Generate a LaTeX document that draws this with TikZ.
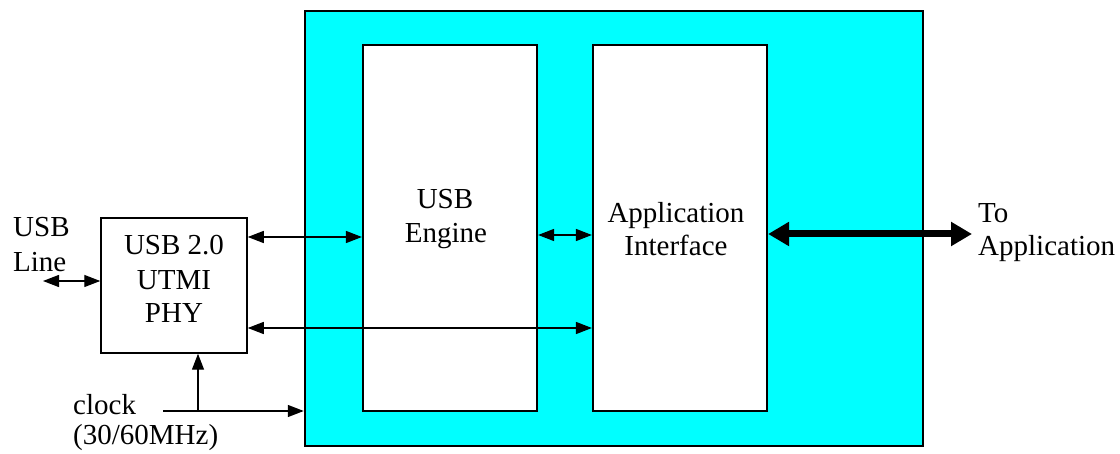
\documentclass[tikz,border=0pt]{standalone}
\usepackage{fontspec}
\setmainfont{Liberation Serif}
\usetikzlibrary{arrows.meta}
\definecolor{aqua}{RGB}{0,255,255}
\begin{document}
\begin{tikzpicture}[x=1pt,y=-1pt,
  lbl/.style={inner sep=0pt,font=\fontsize{29}{34}\selectfont},
  box/.style={draw,fill=white,line width=2.2pt,inner sep=0pt},
  thinarrow/.style={line width=1.4pt,{Triangle[length=16pt,width=12pt]}-{Triangle[length=16pt,width=12pt]}},
  onearrow/.style={line width=1.4pt,-{Triangle[length=16pt,width=12pt]}},
  thickarrow/.style={line width=7pt,{Triangle[length=21pt,width=23pt]}-{Triangle[length=21pt,width=23pt]}}]
\useasboundingbox (0,0) rectangle (1120,454);
% boxes
\node[draw,fill=aqua,line width=2.5pt,inner sep=0pt,minimum width=618pt,minimum height=435pt] (core) at (614,228.5) {};
\node[box,minimum width=174pt,minimum height=366pt] (engine) at (450,228) {};
\node[box,minimum width=174pt,minimum height=366pt] (app) at (680,228) {};
\node[box,line width=1.5pt,minimum width=146pt,minimum height=135pt] (phy) at (174,285.5) {};
% texts
\node[lbl,anchor=base west] (t1) at (13,237) {USB};
\node[lbl,anchor=base west] (t2) at (13,272) {Line};
\node[lbl,anchor=base] (t3) at (174,255) {USB 2.0};
\node[lbl,anchor=base] (t4) at (174,290) {UTMI};
\node[lbl,anchor=base] (t5) at (174,323) {PHY};
\node[lbl,anchor=base] (t6) at (445,209) {USB};
\node[lbl,anchor=base] (t7) at (446,243) {Engine};
\node[lbl,anchor=base] (t8) at (676,223) {Application};
\node[lbl,anchor=base] (t9) at (676,256) {Interface};
\node[lbl,anchor=base west] (t10) at (978,223) {To};
\node[lbl,anchor=base west] (t11) at (978,256) {Application};
\node[lbl,anchor=base west] (t12) at (73,415) {clock};
\node[lbl,anchor=base west] (t13) at (73,445) {(30/60MHz)};
% free ends
\coordinate (usbline) at (43,281);
\coordinate (toapp) at (972,234);
\coordinate (clk) at (163,411);
\coordinate (clkj) at (198,411);
% connectors
\draw[thinarrow] (phy.east |- 0,237) -- (engine.west |- 0,237);
\draw[thinarrow] (engine.east |- 0,235) -- (app.west |- 0,235);
\draw[thinarrow] (phy.east |- 0,328) -- (app.west |- 0,328);
\draw[thinarrow] (usbline) -- (phy.west |- usbline);
\draw[onearrow] (clk) -- (core.west |- clk);
\draw[onearrow] (clkj) -- (clkj |- phy.south);
\draw[thickarrow] (app.east |- toapp) -- (toapp);
\end{tikzpicture}
\end{document}
